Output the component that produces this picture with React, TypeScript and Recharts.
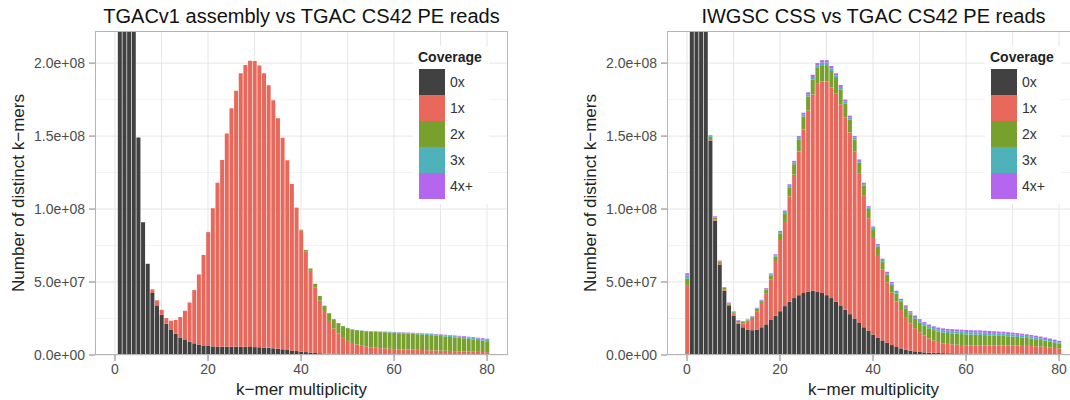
import { BarChart, Bar, XAxis, YAxis, CartesianGrid } from "recharts";

// k-mer multiplicity, 0..80
const KMER = Array.from({ length: 81 }, (_, i) => i);

const LEVELS = ["0x", "1x", "2x", "3x", "4x+"];
const COLORS = ["#414141", "#e8695b", "#77a12c", "#4fb1ba", "#b566ef"];

const X_TICKS = [0, 20, 40, 60, 80];
const Y_TICKS = [0, 5e7, 1e8, 1.5e8, 2e8];
const X_GRID = [0, 10, 20, 30, 40, 50, 60, 70, 80];
const Y_MINOR = [2.5e7, 7.5e7, 1.25e8, 1.75e8];

// values below in millions of distinct k-mers

// left: TGACv1 assembly vs TGAC CS42 PE reads
const tgacDark = [
  0, 1200, 620, 380, 250, 149, 91, 62.5, 42.5, 34, 27.5, 21.5, 17.5, 14.5, 12, 10.3, 9, 8, 7.2, 6.6,
  6.2, 5.9, 5.7, 5.6, 5.6, 5.6, 5.6, 5.6, 5.6, 5.5, 5.4, 5.3, 5.1, 4.9, 4.6, 4.3, 3.9, 3.5, 3.1, 2.7,
  2.3, 2.0, 1.7, 1.4, 1.2, 1.0, 0.85, 0.72, 0.62, 0.54, 0.48, 0.44, 0.41, 0.38, 0.36, 0.34, 0.32, 0.3, 0.29, 0.28,
  0.27, 0.26, 0.25, 0.24, 0.23, 0.22, 0.21, 0.2, 0.2, 0.19, 0.19, 0.18, 0.18, 0.17, 0.17, 0.16, 0.16, 0.15, 0.15, 0.15,
  0.14,
];
const tgacRed = [
  0, 0, 0, 0, 0, 0, 0, 0, 2.5, 3.5, 3.5, 3.8, 6, 9.5, 14, 20, 27, 36.5, 48, 62,
  78, 94.6, 112.3, 128, 146.2, 163.4, 175.4, 187.4, 193.1, 196.1, 196, 193, 188, 180, 170, 158, 145, 130, 114, 98,
  83, 69, 56, 45, 36, 28.5, 22.5, 17.5, 14, 11.2, 9.2, 7.8, 6.8, 6.0, 5.4, 5.0, 4.7, 4.4, 4.2, 4.0,
  3.8, 3.7, 3.6, 3.5, 3.4, 3.3, 3.2, 3.1, 3.0, 2.9, 2.8, 2.7, 2.6, 2.5, 2.4, 2.3, 2.2, 2.1, 2.0, 1.9,
  1.8,
];
const tgacGreen = [
  0, 0, 0, 0, 0, 0, 0, 0, 0, 0, 0, 0, 0, 0, 0, 0, 0, 0, 0, 0,
  0, 0, 0, 0, 0, 0, 0, 0, 0, 0, 0, 0, 0, 0, 0, 0, 0, 0, 0, 0.3,
  0.6, 1.0, 1.6, 2.4, 3.3, 4.3, 5.3, 6.3, 7.2, 8.0, 8.7, 9.3, 9.8, 10.2, 10.5, 10.7, 10.9, 11.0, 11.1, 11.1,
  11.1, 11.0, 11.0, 10.9, 10.8, 10.7, 10.6, 10.5, 10.4, 10.2, 10.0, 9.8, 9.6, 9.4, 9.2, 9.0, 8.7, 8.4, 8.1, 7.8,
  7.5,
];
const tgacTeal = [
  0, 0, 0, 0, 0, 0, 0, 0, 0, 0, 0, 0, 0, 0, 0, 0, 0, 0, 0, 0,
  0, 0, 0, 0, 0, 0, 0, 0, 0, 0, 0, 0, 0, 0, 0, 0, 0, 0, 0, 0,
  0, 0, 0, 0, 0, 0, 0, 0, 0.05, 0.08, 0.1, 0.13, 0.16, 0.2, 0.23, 0.26, 0.3, 0.33, 0.36, 0.4,
  0.43, 0.46, 0.5, 0.53, 0.56, 0.6, 0.63, 0.66, 0.7, 0.73, 0.76, 0.79, 0.82, 0.85, 0.88, 0.9, 0.93, 0.96, 0.98, 1.0,
  1.0,
];
const tgacPurple = [
  0, 0, 0, 0, 0, 0, 0, 0, 0, 0, 0, 0, 0, 0, 0, 0, 0, 0, 0, 0,
  0, 0, 0, 0, 0, 0, 0, 0, 0, 0, 0, 0, 0, 0, 0, 0, 0, 0, 0, 0,
  0, 0, 0, 0, 0, 0, 0, 0, 0, 0, 0, 0, 0, 0.05, 0.07, 0.09, 0.11, 0.13, 0.15, 0.17,
  0.19, 0.21, 0.23, 0.25, 0.27, 0.29, 0.31, 0.33, 0.35, 0.37, 0.4, 0.42, 0.45, 0.48, 0.5, 0.53, 0.56, 0.6, 0.63, 0.66,
  0.7,
];

// right: IWGSC CSS vs TGAC CS42 PE reads
const cssDark = [
  0, 1100, 600, 370, 240, 147, 92, 62, 44, 34, 27, 21.5, 19, 17.5, 17, 17.5, 19, 21, 24, 27,
  30, 33.5, 36.5, 39, 41, 42.5, 43.5, 44, 43.5, 42.5, 41, 39, 36.5, 34, 31, 28, 25, 22, 19, 16.5,
  14, 12, 10, 8.3, 6.8, 5.5, 4.5, 3.7, 3.0, 2.5, 2.1, 1.8, 1.6, 1.45, 1.35, 1.25, 1.2, 1.15, 1.1, 1.05,
  1.0, 0.98, 0.96, 0.94, 0.92, 0.9, 0.88, 0.86, 0.84, 0.82, 0.8, 0.78, 0.76, 0.74, 0.72, 0.7, 0.68, 0.66, 0.64, 0.62,
  0.6,
];
const cssRed = [
  48, 3, 3, 3, 3, 1, 1, 1, 1, 0.5, 1.5, 1.0, 2.7, 5.2, 7.7, 12.5, 16, 21.4, 27.6, 36.8,
  48.8, 58.3, 72.2, 84.6, 98.5, 111.9, 123.9, 134.5, 142.3, 144.8, 146.3, 144.5, 142.6, 137.8, 131.6, 124.5, 114.4, 102.3, 90.1, 77.2,
  66.2, 56.5, 48.7, 41.5, 35.9, 31.1, 26.3, 22.3, 18.8, 15.9, 13.5, 11.5, 9.7, 8.4, 7.5, 6.8, 6.4, 6.2, 6.0, 5.8,
  5.6, 5.6, 5.6, 5.7, 5.6, 5.6, 5.6, 5.6, 5.8, 5.7, 5.7, 5.7, 5.5, 5.5, 5.4, 5.3, 5.1, 4.9, 4.6, 4.2,
  3.8,
];
const cssGreen = [
  4.5, 2, 2, 2, 2, 1.5, 1.2, 1.0, 0.9, 0.8, 0.8, 0.8, 0.9, 1.0, 1.2, 1.5, 1.9, 2.4, 3.0, 3.7,
  4.5, 5.3, 6.2, 7.1, 8.0, 8.9, 9.7, 10.4, 11.0, 11.3, 11.3, 11.1, 10.7, 10.2, 9.6, 8.9, 8.2, 7.5, 6.9, 6.4,
  6.0, 5.7, 5.5, 5.4, 5.4, 5.5, 5.7, 5.9, 6.1, 6.4, 6.6, 6.8, 7.0, 7.2, 7.3, 7.4, 7.5, 7.5, 7.5, 7.5,
  7.5, 7.4, 7.3, 7.2, 7.1, 7.0, 6.9, 6.7, 6.5, 6.3, 6.1, 5.9, 5.7, 5.4, 5.1, 4.8, 4.5, 4.2, 3.9, 3.6,
  3.3,
];
const cssTeal = [
  2.0, 0.8, 0.8, 0.8, 0.8, 0.6, 0.5, 0.4, 0.4, 0.35, 0.35, 0.35, 0.35, 0.4, 0.4, 0.45, 0.5, 0.6, 0.7, 0.8,
  0.9, 1.0, 1.1, 1.2, 1.3, 1.4, 1.5, 1.6, 1.7, 1.8, 1.8, 1.8, 1.7, 1.6, 1.5, 1.4, 1.3, 1.2, 1.1, 1.0,
  1.0, 0.95, 0.95, 0.95, 1.0, 1.0, 1.05, 1.1, 1.15, 1.2, 1.25, 1.3, 1.35, 1.4, 1.45, 1.5, 1.5, 1.55, 1.55, 1.6,
  1.6, 1.6, 1.6, 1.6, 1.6, 1.6, 1.55, 1.55, 1.5, 1.5, 1.45, 1.4, 1.4, 1.35, 1.3, 1.3, 1.25, 1.2, 1.15, 1.1,
  1.05,
];
const cssPurple = [
  1.5, 0.6, 0.6, 0.6, 0.6, 0.5, 0.4, 0.35, 0.3, 0.3, 0.3, 0.3, 0.3, 0.35, 0.35, 0.4, 0.45, 0.5, 0.6, 0.7,
  0.8, 0.9, 1.0, 1.1, 1.2, 1.3, 1.4, 1.5, 1.5, 1.6, 1.6, 1.6, 1.5, 1.4, 1.3, 1.2, 1.1, 1.0, 0.95, 0.9,
  0.85, 0.85, 0.85, 0.85, 0.9, 0.9, 0.95, 1.0, 1.0, 1.05, 1.1, 1.15, 1.2, 1.2, 1.25, 1.3, 1.3, 1.35, 1.35, 1.4,
  1.4, 1.4, 1.4, 1.4, 1.4, 1.4, 1.35, 1.35, 1.3, 1.3, 1.25, 1.25, 1.2, 1.2, 1.15, 1.1, 1.1, 1.05, 1.0, 1.0,
  0.95,
];

const FONT = '"Liberation Sans", Arial, Helvetica, sans-serif';

// panel geometry (px inside each chart box)
const W = 530;
const H = 400;
const PL = 95;
const PT = 31;
const PW = 413;
const PB = 355;

function sci(v: number) {
  const [m, e] = v.toExponential(1).split("e");
  const n = Math.abs(parseInt(e, 10));
  return `${m}e${e[0] === "-" ? "-" : "+"}${String(n).padStart(2, "0")}`;
}

function Legend() {
  return (
    <div
      style={{
        position: "absolute",
        left: 413,
        top: 46,
        width: 76,
        height: 158,
        background: "#fff",
      }}
    >
      <div style={{ position: "absolute", left: 5, top: 3, fontSize: 14, fontWeight: "bold", color: "#222" }}>
        Coverage
      </div>
      {LEVELS.map((lv, i) => (
        <div key={lv}>
          <div
            style={{
              position: "absolute",
              left: 6,
              top: 23 + i * 26,
              width: 26,
              height: 26,
              background: COLORS[i],
            }}
          />
          <div style={{ position: "absolute", left: 37, top: 28 + i * 26, fontSize: 14, color: "#333" }}>{lv}</div>
        </div>
      ))}
    </div>
  );
}

function Panel({ left, title, series }: { left: number; title: string; series: number[][] }) {
  const rows = KMER.map((k, i) => ({
    k,
    c0: series[0][i] * 1e6,
    c1: series[1][i] * 1e6,
    c2: series[2][i] * 1e6,
    c3: series[3][i] * 1e6,
    c4: series[4][i] * 1e6,
  }));
  return (
    <div style={{ position: "absolute", left, top: 0, width: W, height: H }}>
      <BarChart
        width={W}
        height={H}
        data={rows}
        margin={{ top: PT, right: W - PL - PW, bottom: 0, left: 0 }}
        barCategoryGap={0.5}
      >
        <CartesianGrid stroke="#f3f3f3" horizontalValues={Y_MINOR} vertical={false} />
        <CartesianGrid stroke="#e6e6e6" horizontalValues={Y_TICKS} verticalValues={X_GRID} />
        <XAxis
          dataKey="k"
          type="number"
          domain={[-4.3, 84.5]}
          allowDataOverflow
          ticks={X_TICKS}
          interval={0}
          height={H - PB}
          axisLine={false}
          tickLine={{ stroke: "#7f7f7f" }}
          tickSize={6}
          tickMargin={3}
          tick={{ fill: "#4d4d4d", fontSize: 14 }}
        />
        <YAxis
          type="number"
          domain={[0, 2.22e8]}
          allowDataOverflow
          ticks={Y_TICKS}
          interval={0}
          width={PL}
          axisLine={false}
          tickLine={{ stroke: "#7f7f7f" }}
          tickSize={6}
          tickMargin={4}
          tickFormatter={sci}
          tick={{ fill: "#4d4d4d", fontSize: 14 }}
        />
        {["c0", "c1", "c2", "c3", "c4"].map((key, i) => (
          <Bar key={key} dataKey={key} stackId="s" fill={COLORS[i]} isAnimationActive={false} />
        ))}
      </BarChart>
      <div
        style={{
          position: "absolute",
          left: PL,
          top: PT,
          width: PW,
          height: PB - PT,
          boxSizing: "border-box",
          border: "1px solid #b5b5b5",
          pointerEvents: "none",
        }}
      />
      <Legend />
      <div
        style={{
          position: "absolute",
          left: PL,
          width: PW,
          top: 5,
          textAlign: "center",
          fontSize: 20,
          color: "#111",
          whiteSpace: "nowrap",
        }}
      >
        {title}
      </div>
      <div
        style={{
          position: "absolute",
          left: PL,
          width: PW,
          top: 380,
          textAlign: "center",
          fontSize: 17,
          color: "#222",
        }}
      >
        k−mer multiplicity
      </div>
      <div
        style={{
          position: "absolute",
          left: 19 - 120,
          top: (PT + PB) / 2 - 10,
          width: 240,
          textAlign: "center",
          fontSize: 17,
          color: "#222",
          transform: "rotate(-90deg)",
          whiteSpace: "nowrap",
        }}
      >
        Number of distinct k−mers
      </div>
    </div>
  );
}

export default function App() {
  return (
    <div
      style={{
        position: "absolute",
        left: 0,
        top: 0,
        width: 1070,
        height: 400,
        overflow: "hidden",
        background: "#fff",
        fontFamily: FONT,
      }}
    >
      <Panel
        left={0}
        title="TGACv1 assembly vs TGAC CS42 PE reads"
        series={[tgacDark, tgacRed, tgacGreen, tgacTeal, tgacPurple]}
      />
      <Panel
        left={572}
        title="IWGSC CSS vs TGAC CS42 PE reads"
        series={[cssDark, cssRed, cssGreen, cssTeal, cssPurple]}
      />
    </div>
  );
}
